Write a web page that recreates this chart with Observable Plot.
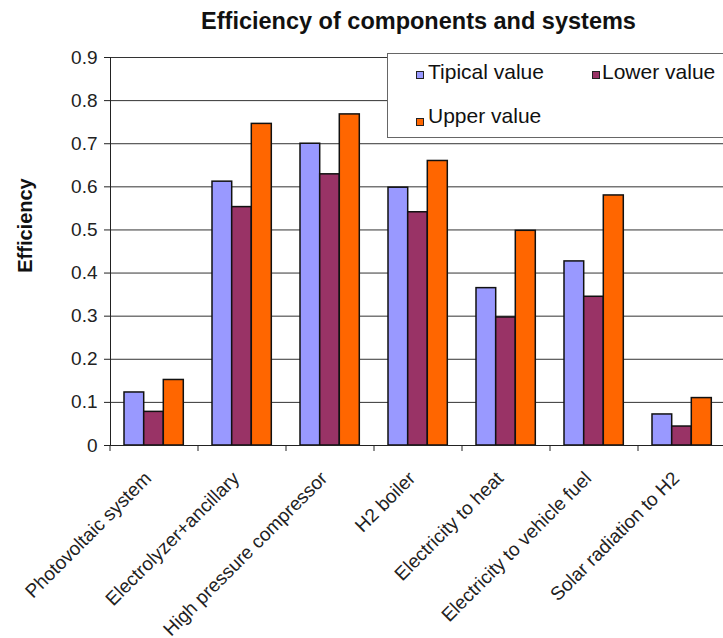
<!DOCTYPE html>
<html><head><meta charset="utf-8">
<script src="https://cdn.jsdelivr.net/npm/d3@7"></script>
<script src="https://cdn.jsdelivr.net/npm/@observablehq/plot@0.6"></script>
<style>
html,body{margin:0;padding:0;background:#fff;overflow:hidden;}
#wrap{position:relative;width:723px;height:638px;overflow:hidden;font-family:"Liberation Sans",Arial,sans-serif;}
#wrap svg{max-width:none;display:block;}
.legend{position:absolute;left:387px;top:53px;width:360px;height:85px;border:1px solid #666;background:#fff;box-sizing:border-box;}
.item{position:absolute;font-size:21px;line-height:21px;color:#111;white-space:nowrap;}
.sw{position:absolute;width:6px;height:6px;border:1px solid #222;}
</style></head><body><div id="wrap"></div>
<script>
const categories = ["Photovoltaic system","Electrolyzer+ancillary","High pressure compressor","H2 boiler","Electricity to heat","Electricity to vehicle fuel","Solar radiation to H2"];
const seriesNames = ["Tipical value","Lower value","Upper value"];
const seriesColors = ["#9999FF","#993366","#FF6600"];
const typical = [0.123, 0.612, 0.700, 0.598, 0.365, 0.427, 0.072];
const lower   = [0.078, 0.553, 0.629, 0.541, 0.297, 0.345, 0.044];
const upper   = [0.152, 0.746, 0.768, 0.660, 0.498, 0.580, 0.110];
const yTicks = [0, 0.1, 0.2, 0.3, 0.4, 0.5, 0.6, 0.7, 0.8, 0.9];
const titleText = "Efficiency of components and systems";
const yLabel = "Efficiency";

const seriesValues = [typical, lower, upper];
const rows = categories.flatMap((c, i) => seriesNames.map((s, k) => ({category: c, series: s, value: seriesValues[k][i]})));
const insets = [[14, 54.3], [33.7, 34.7], [53.3, 14.7]];

const barMarks = seriesNames.map((s, k) => Plot.barY(rows.filter(d => d.series === s), {
  x: "category", y: "value", fill: "series", stroke: "#111", strokeWidth: 1.5,
  insetLeft: insets[k][0], insetRight: insets[k][1]
}));

const chart = Plot.plot({
  width: 723, height: 638,
  marginTop: 57, marginBottom: 193, marginLeft: 110, marginRight: -3,
  style: {fontFamily: "'Liberation Sans', Arial, sans-serif", color: "#222", background: "white"},
  x: {domain: categories, padding: 0, axis: null},
  y: {domain: [0, 0.9], axis: null},
  color: {domain: seriesNames, range: seriesColors},
  marks: [
    Plot.gridY(yTicks, {stroke: "#333", strokeOpacity: 1, strokeWidth: 1}),
    ...barMarks,
    Plot.frame({anchor: "left", stroke: "#222"}),
    Plot.ruleY([0], {stroke: "#222"}),
    Plot.axisY(yTicks, {tickSize: 6, tickPadding: 7, fontSize: 19, label: null, stroke: "#222",
      tickFormat: d => d === 0 ? "0" : d.toFixed(1)}),
    (index, {x, y}) => {
      const g = d3.create("svg:g").attr("stroke", "#222");
      for (const c of categories) g.append("line").attr("x1", x(c)).attr("x2", x(c)).attr("y1", y(0)).attr("y2", y(0) + 6);
      return g.node();
    },
    Plot.text(categories, {x: d => d, text: d => d, frameAnchor: "bottom", dx: -2, dy: 34, rotate: -45,
      textAnchor: "end", lineAnchor: "bottom", fontSize: 19, fill: "#222"}),
    Plot.text([titleText], {text: d => d, frameAnchor: "top", dy: -29, textAnchor: "middle", lineAnchor: "bottom",
      fontSize: 23.5, fontWeight: "bold", fill: "#111"}),
    Plot.text([yLabel], {text: d => d, frameAnchor: "left", dx: -79, dy: -26, rotate: -90, textAnchor: "middle",
      lineAnchor: "bottom", fontSize: 20, fontWeight: "bold", fill: "#111"})
  ]
});
const wrap = document.getElementById("wrap");
wrap.appendChild(chart);

const legend = document.createElement("div");
legend.className = "legend";
const pos = [[28, 17, 40, 7], [204, 17, 214, 7], [28, 64, 40, 51]];
seriesNames.forEach((s, k) => {
  const sw = document.createElement("div");
  sw.className = "sw";
  sw.style.left = pos[k][0] + "px"; sw.style.top = pos[k][1] + "px";
  sw.style.background = seriesColors[k];
  const t = document.createElement("div");
  t.className = "item";
  t.style.left = pos[k][2] + "px"; t.style.top = pos[k][3] + "px";
  t.textContent = s;
  legend.appendChild(sw); legend.appendChild(t);
});
wrap.appendChild(legend);
</script></body></html>
